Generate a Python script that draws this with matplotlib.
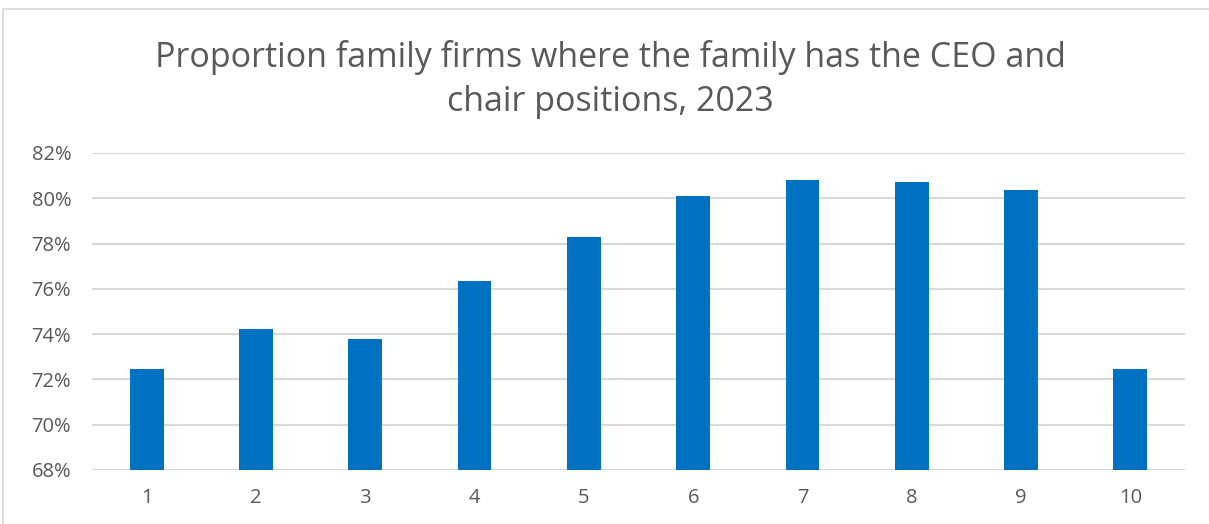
import matplotlib
matplotlib.use("Agg")
import matplotlib.pyplot as plt
from matplotlib.patches import Rectangle
from matplotlib.ticker import FuncFormatter

# Data
categories = ["1", "2", "3", "4", "5", "6", "7", "8", "9", "10"]
shares = [72.44, 74.21, 73.80, 76.35, 78.29, 80.09, 80.81, 80.71, 80.37, 72.48]
title = "Proportion family firms where the family has the CEO and\nchair positions, 2023"

plt.rcParams['font.family'] = ['Open Sans', 'DejaVu Sans']
text_col = '#595959'

fig = plt.figure(figsize=(12.09, 5.24), dpi=100)
ax = fig.add_axes([92 / 1209, 54 / 524, (1185 - 92) / 1209, (470 - 153) / 524])

x = range(len(categories))
ax.bar(x, shares, width=0.31, color='#0070C0', zorder=3)

ax.set_xlim(-0.5, len(categories) - 0.5)
ax.set_ylim(68, 82)
ax.set_yticks(range(68, 83, 2))
ax.yaxis.set_major_formatter(FuncFormatter(lambda v, p: f"{v:.0f}%"))
ax.set_xticks(list(x))
ax.set_xticklabels(categories)

ax.grid(axis='y', color='#D9D9D9', linewidth=1.5, zorder=0)
for s in ax.spines.values():
    s.set_visible(False)
ax.tick_params(length=0, labelsize=14.5, labelcolor=text_col)
ax.tick_params(axis='y', pad=15)
ax.tick_params(axis='x', pad=13)

fig.text(0.505, 0.848, title, ha='center', va='center', fontsize=24.5,
         color=text_col, linespacing=1.38)

# outer chart border (right and bottom edges fall outside the image)
fig.patches.append(Rectangle((3 / 1209, -0.1), 1.1, 1.1 + (524 - 9) / 524 - 1.0,
                             transform=fig.transFigure, fill=False,
                             edgecolor='#D9D9D9', linewidth=1.2))

fig.savefig("out.png", dpi=100)
